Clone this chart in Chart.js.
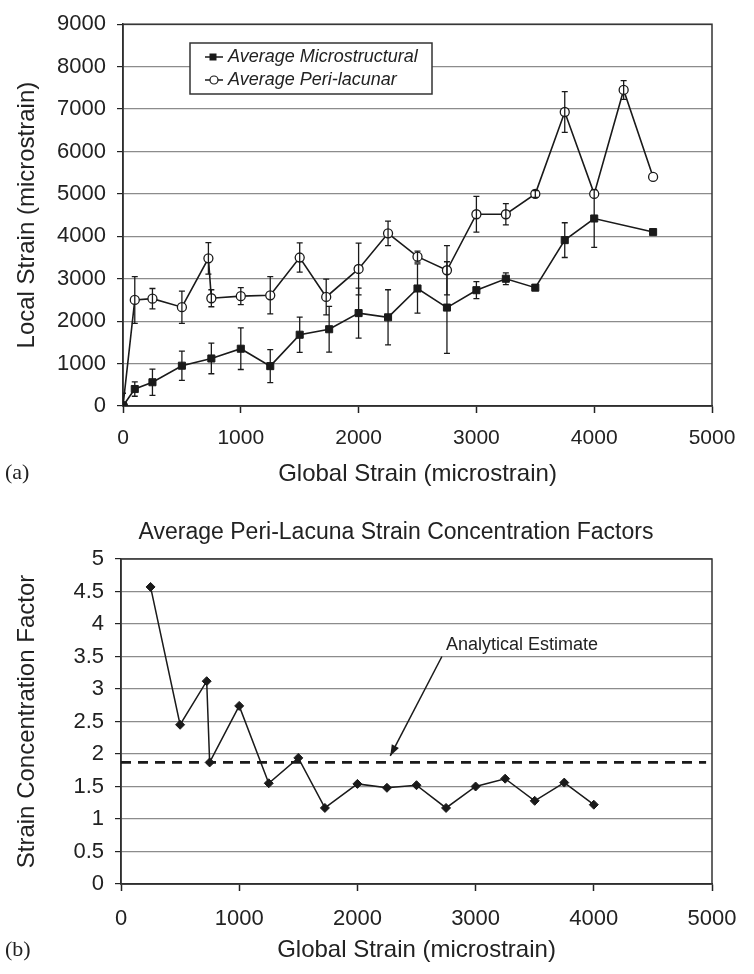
<!DOCTYPE html>
<html><head><meta charset="utf-8">
<script src="https://cdn.jsdelivr.net/npm/chart.js@4"></script>
<style>
body{margin:0;background:#fff;width:754px;height:974px;position:relative;overflow:hidden;font-family:'Liberation Sans',Arial,sans-serif}
canvas{position:absolute;left:0}
#c1{top:0} #c2{top:490px}
.tag{position:absolute;left:5px;font:22px 'Liberation Serif',serif;color:#222}
</style></head><body>
<canvas id="c1" width="754" height="490"></canvas>
<canvas id="c2" width="754" height="484"></canvas>
<div class="tag" style="top:459px">(a)</div>
<div class="tag" style="top:936px">(b)</div>
<script>
// (a) local strain vs global strain
const microX = [0,100,250,500,750,1000,1250,1500,1750,2000,2250,2500,2750,3000,3250,3500,3750,4000,4500];
const microY = [0,400,560,950,1120,1350,940,1680,1810,2190,2090,2770,2320,2730,3000,2790,3910,4420,4100];
const microErr = [300,170,310,345,360,490,390,415,540,590,650,580,1080,200,140,0,410,680,0];
const periX = [0,100,250,500,725,750,1000,1250,1500,1725,2000,2250,2500,2750,3000,3250,3500,3750,4000,4250,4500];
const periY = [0,2500,2530,2330,3480,2540,2590,2610,3500,2570,3230,4070,3520,3200,4520,4520,5000,6930,5000,7450,5400];
const periErr = [0,550,240,380,370,200,200,440,345,420,610,290,130,580,420,250,80,480,0,220,0];
const legendNames = ['Average Microstructural','Average Peri-lacunar'];

// (b) strain concentration factors
const scfX = [250,500,725,750,1000,1250,1500,1725,2000,2250,2500,2750,3000,3250,3500,3750,4000];
const scfY = [4.57,2.45,3.12,1.87,2.74,1.55,1.94,1.17,1.54,1.48,1.52,1.17,1.50,1.62,1.28,1.56,1.22];
const estimateX = [0,4950];
const estimateY = [1.87,1.87];
const noteText = 'Analytical Estimate';
const notePos = [2750,3.67];
const arrowFrom = [2715,3.50];
const arrowTo = [2278,1.97];

const ink = '#1a1a1a';
const pts = (xs,ys)=>xs.map((x,i)=>({x:x,y:ys[i]}));
const plain = v=>String(v);

// frame round the plot area
const framePlugin = {
  id:'frame',
  beforeDatasetsDraw(chart){
    const {ctx,chartArea:a} = chart;
    ctx.save();
    ctx.strokeStyle='#333'; ctx.lineWidth=1.5;
    ctx.strokeRect(a.left,a.top,a.right-a.left,a.bottom-a.top);
    ctx.restore();
  }
};

// vertical error bars from dataset.errors
const errorBars = {
  id:'errorBars',
  afterDatasetsDraw(chart){
    const {ctx,chartArea:a,scales} = chart;
    ctx.save();
    ctx.beginPath(); ctx.rect(a.left,a.top,a.right-a.left,a.bottom-a.top+1); ctx.clip();
    ctx.strokeStyle=ink; ctx.lineWidth=1.3;
    chart.data.datasets.forEach(ds=>{
      if(!ds.errors) return;
      ds.data.forEach((p,i)=>{
        const e = ds.errors[i];
        if(!e) return;
        const x = scales.x.getPixelForValue(p.x);
        const y1 = scales.y.getPixelForValue(p.y+e);
        const y2 = scales.y.getPixelForValue(p.y-e);
        ctx.beginPath();
        ctx.moveTo(x,y1); ctx.lineTo(x,y2);
        ctx.moveTo(x-3,y1); ctx.lineTo(x+3,y1);
        ctx.moveTo(x-3,y2); ctx.lineTo(x+3,y2);
        ctx.stroke();
      });
    });
    ctx.restore();
  }
};

const legendBox = {
  id:'legendBox',
  afterDraw(chart){
    const ctx = chart.ctx;
    ctx.save();
    ctx.fillStyle='#fff'; ctx.fillRect(190,43,242,51);
    ctx.strokeStyle='#333'; ctx.lineWidth=1.5; ctx.strokeRect(190,43,242,51);
    const rows=[57,80];
    ctx.strokeStyle=ink; ctx.lineWidth=1.5;
    rows.forEach((y,i)=>{
      ctx.beginPath(); ctx.moveTo(205,y); ctx.lineTo(223,y); ctx.stroke();
      if(i===0){ ctx.fillStyle=ink; ctx.fillRect(209.5,y-3.5,7,7); }
      else { ctx.fillStyle='#fff'; ctx.beginPath(); ctx.arc(214,y,4,0,Math.PI*2); ctx.fill(); ctx.lineWidth=1.2; ctx.stroke(); }
      ctx.fillStyle='#222'; ctx.font="italic 18px 'Liberation Sans', Arial";
      ctx.textBaseline='middle'; ctx.textAlign='left';
      ctx.fillText(legendNames[i],228,y);
    });
    ctx.restore();
  }
};

const noteAndTitle = {
  id:'noteAndTitle',
  afterDraw(chart){
    const {ctx,scales} = chart;
    ctx.save();
    ctx.fillStyle='#222';
    ctx.font="23px 'Liberation Sans', Arial";
    ctx.textAlign='center'; ctx.textBaseline='middle';
    ctx.fillText('Average Peri-Lacuna Strain Concentration Factors',396,43);
    ctx.font="18px 'Liberation Sans', Arial";
    ctx.textAlign='left';
    ctx.fillText(noteText,scales.x.getPixelForValue(notePos[0]),scales.y.getPixelForValue(notePos[1]));
    const x1=scales.x.getPixelForValue(arrowFrom[0]), y1=scales.y.getPixelForValue(arrowFrom[1]);
    const x2=scales.x.getPixelForValue(arrowTo[0]), y2=scales.y.getPixelForValue(arrowTo[1]);
    ctx.strokeStyle=ink; ctx.lineWidth=1.5;
    ctx.beginPath(); ctx.moveTo(x1,y1); ctx.lineTo(x2,y2); ctx.stroke();
    const ang=Math.atan2(y2-y1,x2-x1);
    ctx.fillStyle=ink; ctx.beginPath();
    ctx.moveTo(x2,y2);
    ctx.lineTo(x2-11*Math.cos(ang)+4*Math.sin(ang), y2-11*Math.sin(ang)-4*Math.cos(ang));
    ctx.lineTo(x2-11*Math.cos(ang)-4*Math.sin(ang), y2-11*Math.sin(ang)+4*Math.cos(ang));
    ctx.closePath(); ctx.fill();
    ctx.restore();
  }
};

const tickFont = {family:"'Liberation Sans', Arial", size:22};
const titleFont = {family:"'Liberation Sans', Arial", size:24, lineHeight:1};

new Chart(document.getElementById('c1'), {
  type:'scatter',
  data:{datasets:[
    { label:legendNames[0], data:pts(microX,microY), errors:microErr, showLine:true,
      borderColor:ink, borderWidth:1.6, backgroundColor:ink,
      pointStyle:'rect', pointRadius:5, pointBorderWidth:1 },
    { label:legendNames[1], data:pts(periX,periY), errors:periErr, showLine:true,
      borderColor:ink, borderWidth:1.6, backgroundColor:'#fff',
      pointStyle:'circle', pointRadius:4.5, pointBorderWidth:1.3 }
  ]},
  options:{
    responsive:false, animation:false, devicePixelRatio:1,
    layout:{padding:{top:24,right:42,left:0,bottom:0}},
    plugins:{legend:{display:false}, tooltip:{enabled:false}},
    scales:{
      x:{ type:'linear', min:0, max:5000,
        ticks:{stepSize:1000, font:{...tickFont,size:21}, color:'#222', padding:13, callback:plain},
        grid:{drawOnChartArea:false, tickLength:7, tickColor:'#222', tickWidth:1.5},
        border:{color:'#222', width:1.5},
        title:{display:true, text:'Global Strain (microstrain)', font:titleFont, color:'#222', padding:{bottom:4}},
        afterFit(s){ s.height=84; } },
      y:{ min:0, max:9000,
        ticks:{stepSize:1000, font:tickFont, color:'#222', padding:11, callback:plain},
        grid:{color:'#8c8c8c', lineWidth:1.2, tickLength:6, tickColor:'#222'},
        border:{color:'#222', width:1.5},
        title:{display:true, text:'Local Strain (microstrain)', font:titleFont, color:'#222', padding:{top:15}},
        afterFit(s){ s.width=123; } }
    }
  },
  plugins:[framePlugin, errorBars, legendBox]
});

new Chart(document.getElementById('c2'), {
  type:'scatter',
  data:{datasets:[
    { label:'Strain concentration factor', data:pts(scfX,scfY), showLine:true,
      borderColor:ink, borderWidth:1.5, backgroundColor:ink,
      pointStyle:'rectRot', pointRadius:4.5, pointBorderWidth:1 },
    { label:'Analytical Estimate', data:pts(estimateX,estimateY), showLine:true,
      borderColor:ink, borderWidth:2.8, borderDash:[10,7], pointRadius:0 }
  ]},
  options:{
    responsive:false, animation:false, devicePixelRatio:1,
    layout:{padding:{top:69,right:42,left:0,bottom:0}},
    plugins:{legend:{display:false}, tooltip:{enabled:false}},
    scales:{
      x:{ type:'linear', min:0, max:5000,
        ticks:{stepSize:1000, font:tickFont, color:'#222', padding:15, callback:plain},
        grid:{drawOnChartArea:false, tickLength:7, tickColor:'#222', tickWidth:1.5},
        border:{color:'#222', width:1.5},
        title:{display:true, text:'Global Strain (microstrain)', font:titleFont, color:'#222', padding:{bottom:12}},
        afterFit(s){ s.height=90; } },
      y:{ min:0, max:5,
        ticks:{stepSize:0.5, font:tickFont, color:'#222', padding:11, callback:plain},
        grid:{color:'#8c8c8c', lineWidth:1.2, tickLength:6, tickColor:'#222'},
        border:{color:'#222', width:1.5},
        title:{display:true, text:'Strain Concentration Factor', font:titleFont, color:'#222', padding:{top:15}},
        afterFit(s){ s.width=121; } }
    }
  },
  plugins:[framePlugin, noteAndTitle]
});
</script>
</body></html>
